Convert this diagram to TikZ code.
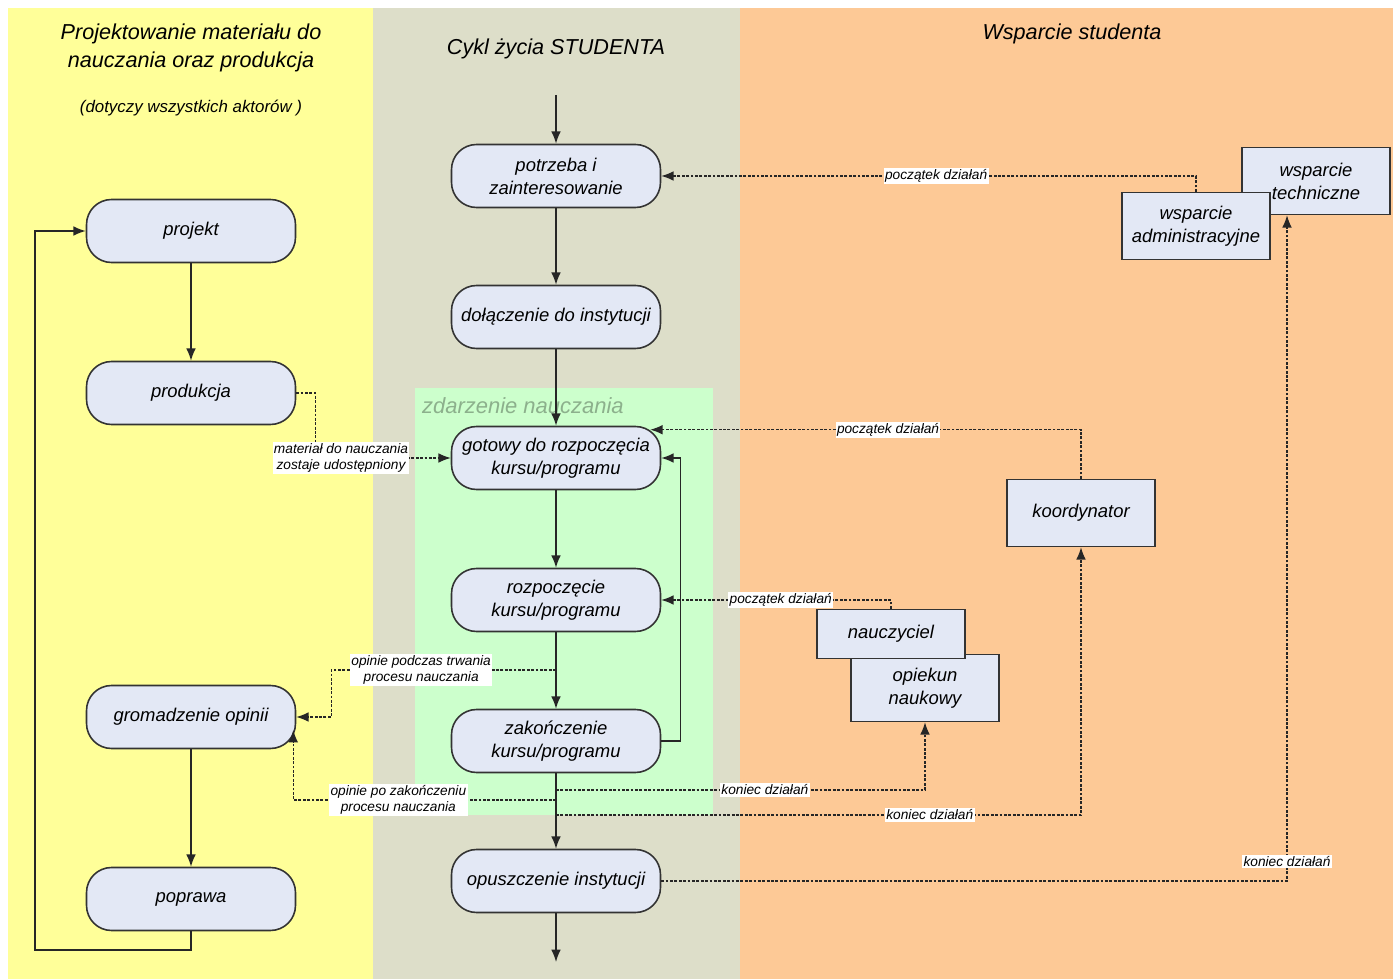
\documentclass[tikz,border=0pt]{standalone}
\usepackage{fontspec}
\setmainfont{Liberation Sans}
\usetikzlibrary{arrows.meta}
\definecolor{pasProjekt}{HTML}{FFFF99}
\definecolor{pasCykl}{HTML}{DDDEC9}
\definecolor{pasWsparcie}{HTML}{FDC996}
\definecolor{strefa}{HTML}{CCFFCC}
\definecolor{wypelnienie}{HTML}{E3E8F5}
\definecolor{strefaTekst}{HTML}{8CB08C}
\tikzset{
  stan/.style={draw=black!80, line width=0.9pt, fill=wypelnienie, rounded corners=0.5cm,
    minimum width=4.18cm, minimum height=1.26cm, align=center,
    font=\itshape\fontsize{10.5}{13}\selectfont},
  rola/.style={draw=black!80, line width=0.9pt, fill=wypelnienie,
    minimum width=2.96cm, minimum height=1.34cm, align=center,
    font=\itshape\fontsize{10.5}{13}\selectfont},
  etykieta/.style={fill=white, inner sep=0.8pt, align=center,
    font=\itshape\fontsize{7.8}{9}\selectfont},
  przeplyw/.style={-{Latex[length=7pt,width=5.5pt]}, line width=0.8pt, draw=black!85},
  sygnal/.style={-{Latex[length=7pt,width=5.5pt]}, line width=0.7pt, draw=black!85,
    dash pattern=on 1.6pt off 0.9pt},
}
\begin{document}
\begin{tikzpicture}[x=0.02cm,y=-0.02cm]
  % tlo i pasy
  \fill[white] (0,0) rectangle (1393,979);
  \fill[pasProjekt] (8,8) rectangle (373,979);
  \fill[pasCykl] (373,8) rectangle (740,979);
  \fill[pasWsparcie] (740,8) rectangle (1393,979);
  \fill[strefa] (415,388) rectangle (713,815);

  % naglowki
  \node[align=center, font=\itshape\fontsize{12.3}{16}\selectfont] (tytul1) at (191,48)
    {Projektowanie materiału do\\nauczania oraz produkcja};
  \node[font=\itshape\fontsize{9.6}{11}\selectfont] (podtytul1) at (191,108)
    {(dotyczy wszystkich aktorów )};
  \node[font=\itshape\fontsize{12.3}{14}\selectfont] (tytul2) at (556,49) {Cykl życia STUDENTA};
  \node[font=\itshape\fontsize{12.3}{14}\selectfont] (tytul3) at (1072,34) {Wsparcie studenta};
  \node[anchor=west, text=strefaTekst, font=\itshape\fontsize{12.5}{14}\selectfont]
    (zdarzenie) at (416,406) {zdarzenie nauczania};

  % lewy pas
  \node[stan] (projekt) at (191,231) {projekt};
  \node[stan] (produkcja) at (191,393) {produkcja};
  \node[stan] (gromadzenie) at (191,717) {gromadzenie opinii};
  \node[stan] (poprawa) at (191,899) {poprawa};

  % cykl zycia
  \node[stan] (potrzeba) at (556,176) {potrzeba i\\zainteresowanie};
  \node[stan] (dolaczenie) at (556,317) {dołączenie do instytucji};
  \node[stan] (gotowy) at (556,458) {gotowy do rozpoczęcia\\kursu/programu};
  \node[stan] (rozpoczecie) at (556,600) {rozpoczęcie\\kursu/programu};
  \node[stan] (zakonczenie) at (556,741) {zakończenie\\kursu/programu};
  \node[stan] (opuszczenie) at (556,881) {opuszczenie instytucji};

  % wsparcie
  \node[rola] (techniczne) at (1316,181) {wsparcie\\techniczne};
  \node[rola] (administracyjne) at (1196,226) {wsparcie\\administracyjne};
  \node[rola] (koordynator) at (1081,513) {koordynator};
  \node[rola] (opiekun) at (925,688) {opiekun\\naukowy};
  \node[rola, minimum height=0.98cm] (nauczyciel) at (891,634) {nauczyciel};

  \coordinate (wejscie) at (556,95);
  \coordinate (wyjscie) at (556,962);
  \coordinate (petla) at (35,950);
  \coordinate (opinia1) at (556,670);
  \coordinate (opinia2) at (556,800);
  \coordinate (koniec1) at (556,790);
  \coordinate (koniec2) at (556,815);

  \begin{scope}[przeplyw]
    \draw (wejscie) to (potrzeba);
    \draw (potrzeba) to (dolaczenie);
    \draw (dolaczenie) to (gotowy);
    \draw (gotowy) to (rozpoczecie);
    \draw (rozpoczecie) to (zakonczenie);
    \draw (zakonczenie) to (opuszczenie);
    \draw (opuszczenie) to (wyjscie);
    \draw (projekt) to (produkcja);
    \draw (gromadzenie) to (poprawa);
    \draw (poprawa.south) |- (petla) |- (projekt.west);
    \draw (zakonczenie.east) -- ++(0.38cm,0) |- (gotowy.east);
  \end{scope}

  \begin{scope}[sygnal]
    \draw (produkcja.east) -- ++(0.38cm,0) |- (gotowy.west)
      node[etykieta, pos=0.595] {materiał do nauczania\\zostaje udostępniony};
    \draw (administracyjne.north) |- (potrzeba.east)
      node[etykieta, pos=0.743] {początek działań};
    \draw (koordynator.north) |- ([xshift=-0.22cm,yshift=-0.08cm]gotowy.north east)
      node[etykieta, pos=0.724] {początek działań};
    \draw (nauczyciel.north) |- (rozpoczecie.east)
      node[etykieta, pos=0.74] {początek działań};
    \draw (opinia1) -| ([xshift=0.7cm]gromadzenie.east)
      node[etykieta, pos=0.3] {opinie podczas trwania\\procesu nauczania}
      -- (gromadzenie.east);
    \draw (opinia2) -| ([xshift=-0.06cm,yshift=-0.26cm]gromadzenie.east)
      node[etykieta, pos=0.3] {opinie po zakończeniu\\procesu nauczania};
    \draw (koniec1) -| (opiekun.south)
      node[etykieta, pos=0.283] {koniec działań};
    \draw (koniec2) -| (koordynator.south)
      node[etykieta, pos=0.356] {koniec działań};
    \draw (opuszczenie.east) -| ([xshift=-0.58cm]techniczne.south)
      node[etykieta, pos=0.515] {koniec działań};
  \end{scope}
\end{tikzpicture}
\end{document}
